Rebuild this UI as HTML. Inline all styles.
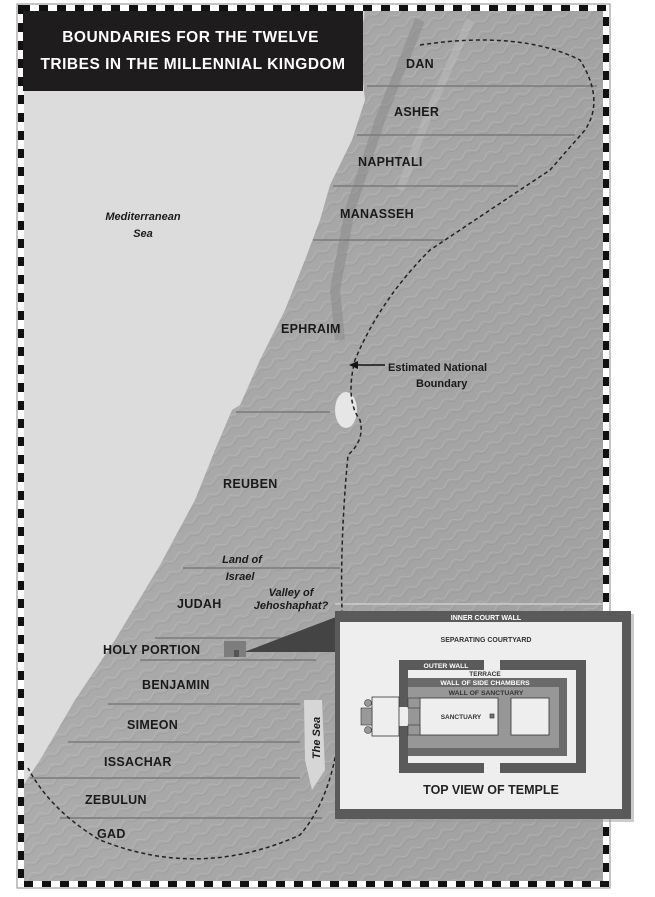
<!DOCTYPE html>
<html><head><meta charset="utf-8"><style>
body{margin:0;background:#fff;width:655px;height:897px;overflow:hidden;font-family:"Liberation Sans",sans-serif}
svg{position:absolute;left:0;top:0}
</style></head><body>
<svg width="655" height="897" viewBox="0 0 655 897" xmlns="http://www.w3.org/2000/svg" font-family="Liberation Sans, sans-serif">
<defs>
<linearGradient id="land" x1="0" y1="0" x2="1" y2="0.3">
<stop offset="0" stop-color="#b0b0b0"/><stop offset="0.5" stop-color="#a8a8a8"/><stop offset="1" stop-color="#a2a2a2"/>
</linearGradient>
<pattern id="tex" width="18" height="12" patternUnits="userSpaceOnUse" patternTransform="rotate(-30)">
<path d="M0 6 Q5 2 9 6 T18 6" stroke="#d0d0d0" stroke-width="0.8" fill="none" opacity="0.35"/>
<path d="M0 9 Q5 6 9 9 T18 9" stroke="#777" stroke-width="0.6" fill="none" opacity="0.3"/>
</pattern>
</defs>
<rect x="20" y="8" width="588" height="876" fill="#dcdcdc"/>
<path d="M365 8 L608 8 L608 884 L20 884 L20 790 L40 760 L75 700 L115 640 L160 565 L195 500 L215 450 L232 410 L240 405 L260 360 L285 310 L305 260 L320 220 L330 185 L352 140 L365 100 L360 50 Z" fill="url(#land)"/>
<path d="M365 8 L608 8 L608 884 L20 884 L20 790 L40 760 L75 700 L115 640 L160 565 L195 500 L215 450 L232 410 L240 405 L260 360 L285 310 L305 260 L320 220 L330 185 L352 140 L365 100 L360 50 Z" fill="url(#tex)"/>
<path d="M420 20 L380 120 L350 210 L335 290 L340 340" stroke="#888" stroke-width="10" fill="none" opacity="0.5"/>
<path d="M470 20 L430 110 L400 190" stroke="#c4c4c4" stroke-width="8" fill="none" opacity="0.4"/>
<ellipse cx="346" cy="410" rx="11" ry="18" fill="#e6e6e6"/>
<path d="M304 700 L322 700 L325 770 L312 790 L305 760 Z" fill="#d6d6d6"/>
<g stroke="#7a7a7a" stroke-width="1.5">
<line x1="367" y1="86" x2="597" y2="86"/>
<line x1="357" y1="135" x2="575" y2="135"/>
<line x1="333" y1="186" x2="518" y2="186"/>
<line x1="313" y1="240" x2="444" y2="240"/>
<line x1="236" y1="412" x2="330" y2="412"/>
<line x1="183" y1="568" x2="340" y2="568"/>
<line x1="155" y1="638" x2="320" y2="638"/>
<line x1="140" y1="660" x2="316" y2="660"/>
<line x1="108" y1="704" x2="300" y2="704"/>
<line x1="68" y1="742" x2="300" y2="742"/>
<line x1="30" y1="778" x2="300" y2="778"/>
<line x1="60" y1="818" x2="322" y2="818"/>
<line x1="335" y1="604" x2="605" y2="604" stroke="#ccc"/>
</g>
<path d="M420 45 Q520 30 580 60 Q605 100 585 130 L550 170 Q490 210 430 250 Q380 300 355 360 Q345 400 360 420 Q365 440 348 455 Q340 540 342 610 L338 740 Q330 800 300 835 Q200 880 100 840 Q50 810 28 768" stroke="#222" stroke-width="1.5" stroke-dasharray="4 3" fill="none"/>
<line x1="352" y1="365" x2="385" y2="365" stroke="#111" stroke-width="1.5"/>
<path d="M349 365 L358 361 L358 369 Z" fill="#111"/>
<path d="M244 652 L336 617 L336 652 Z" fill="#444"/>
<rect x="224" y="641" width="22" height="16" fill="#7d7d7d"/>
<rect x="234" y="650" width="5" height="7" fill="#555"/>
<g fill="none" stroke-width="6">
<rect x="21" y="8" width="585" height="876" stroke="#fff"/>
<rect x="21" y="8" width="585" height="876" stroke="#111" stroke-dasharray="9 9"/>
</g>
<rect x="17" y="4" width="593" height="884" fill="none" stroke="#888" stroke-width="1"/>
<rect x="23" y="11" width="340" height="80" fill="#1e1c1c"/>
<text fill="#fff" font-weight="bold" font-size="15.5" text-anchor="middle" letter-spacing="0.5">
<tspan x="193" y="42">BOUNDARIES FOR THE TWELVE</tspan>
<tspan x="193" y="69">TRIBES IN THE MILLENNIAL KINGDOM</tspan></text>
<g fill="#1a1a1a" font-weight="bold" font-size="12.5" letter-spacing="0.3">
<text x="406" y="68">DAN</text>
<text x="394" y="116">ASHER</text>
<text x="358" y="166">NAPHTALI</text>
<text x="340" y="218">MANASSEH</text>
<text x="281" y="333">EPHRAIM</text>
<text x="223" y="488">REUBEN</text>
<text x="177" y="608">JUDAH</text>
<text x="103" y="654">HOLY PORTION</text>
<text x="142" y="689">BENJAMIN</text>
<text x="127" y="729">SIMEON</text>
<text x="104" y="766">ISSACHAR</text>
<text x="85" y="804">ZEBULUN</text>
<text x="97" y="838">GAD</text>
</g>
<g fill="#1a1a1a" font-weight="bold" font-size="11">
<text x="388" y="371">Estimated National</text>
<text x="416" y="387">Boundary</text>
</g>
<g fill="#1a1a1a" font-weight="bold" font-style="italic" font-size="11" text-anchor="middle">
<text x="143" y="220">Mediterranean</text>
<text x="143" y="237">Sea</text>
<text x="242" y="563">Land of</text>
<text x="240" y="580">Israel</text>
<text x="291" y="596">Valley of</text>
<text x="291" y="609">Jehoshaphat?</text>
<text transform="translate(320 738) rotate(-90)" font-size="11">The Sea</text>
</g>
<!-- inset -->
<rect x="338" y="614" width="296" height="208" fill="#999" opacity="0.5"/>
<rect x="335" y="611" width="296" height="208" fill="#5a5a5a"/>
<rect x="340" y="622" width="282" height="187" fill="#eeeeee"/>
<text x="486" y="620" fill="#fff" font-weight="bold" font-size="7" text-anchor="middle">INNER COURT WALL</text>
<text x="486" y="642" fill="#333" font-weight="bold" font-size="7" text-anchor="middle">SEPARATING COURTYARD</text>
<g fill="#5a5a5a">
<rect x="399" y="660" width="85" height="10"/>
<rect x="399" y="660" width="9" height="47"/>
<rect x="399" y="726" width="9" height="47"/>
<rect x="399" y="763" width="85" height="10"/>
<rect x="500" y="660" width="86" height="10"/>
<rect x="576" y="660" width="10" height="113"/>
<rect x="500" y="763" width="86" height="10"/>
</g>
<rect x="408" y="678" width="159" height="78" fill="#6a6a6a"/>
<rect x="408" y="687" width="151" height="61" fill="#979797"/>
<rect x="420" y="698" width="78" height="37" fill="#eee" stroke="#333" stroke-width="0.8"/>
<rect x="511" y="698" width="38" height="37" fill="#eee" stroke="#333" stroke-width="0.8"/>
<rect x="408" y="698" width="12" height="10" fill="#979797" stroke="#333" stroke-width="0.6"/>
<rect x="408" y="725" width="12" height="10" fill="#979797" stroke="#333" stroke-width="0.6"/>
<rect x="372" y="697" width="27" height="39" fill="#eee" stroke="#333" stroke-width="0.8"/>
<rect x="361" y="708" width="11" height="17" fill="#999" stroke="#333" stroke-width="0.6"/>
<circle cx="368" cy="703" r="3.5" fill="#999" stroke="#333" stroke-width="0.6"/>
<circle cx="368" cy="730" r="3.5" fill="#999" stroke="#333" stroke-width="0.6"/>
<rect x="490" y="714" width="4" height="4" fill="#777" stroke="#222" stroke-width="0.6"/>
<g fill="#fff" font-weight="bold" font-size="6.8" text-anchor="middle">
<text x="446" y="668">OUTER WALL</text>
<text x="485" y="685">WALL OF SIDE CHAMBERS</text>
</g>
<text x="485" y="676" fill="#333" font-weight="bold" font-size="6.5" text-anchor="middle">TERRACE</text>
<text x="486" y="695" fill="#333" font-weight="bold" font-size="6.8" text-anchor="middle">WALL OF SANCTUARY</text>
<text x="461" y="719" fill="#333" font-weight="bold" font-size="6.5" text-anchor="middle">SANCTUARY</text>
<text x="491" y="794" fill="#222" font-weight="bold" font-size="12.5" text-anchor="middle">TOP VIEW OF TEMPLE</text>
</svg>
</body></html>
